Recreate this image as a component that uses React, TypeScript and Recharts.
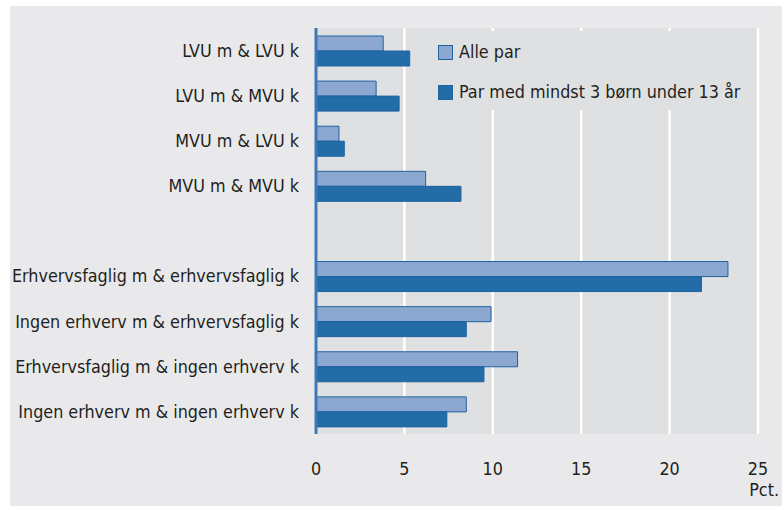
import React from "react";
import { BarChart, Bar, XAxis, YAxis, CartesianGrid } from "recharts";

const categories = [
  "LVU m & LVU k",
  "LVU m & MVU k",
  "MVU m & LVU k",
  "MVU m & MVU k",
  "",
  "Erhvervsfaglig m & erhvervsfaglig k",
  "Ingen erhverv m & erhvervsfaglig k",
  "Erhvervsfaglig m & ingen erhverv k",
  "Ingen erhverv m & ingen erhverv k",
];
const allePar = [3.8, 3.4, 1.3, 6.2, null, 23.3, 9.9, 11.4, 8.5];
const parMedBoern = [5.3, 4.7, 1.6, 8.2, null, 21.8, 8.5, 9.5, 7.4];
const xTicks = [0, 5, 10, 15, 20, 25];
const seriesNames = ["Alle par", "Par med mindst 3 børn under 13 år"];

const data = categories.map((c, i) => ({
  name: c,
  alle: allePar[i],
  boern: parMedBoern[i],
}));

const FONT = "'DejaVu Sans Condensed', 'DejaVu Sans', sans-serif";
const FS = 17.8;
const TEXT = "#231f20";
const LIGHT = "#8da8d0";
const DARK = "#226ca8";
const STROKE = "#1e62a0";

const LegendBox = () => (
  <div
    style={{
      position: "absolute",
      left: 418,
      top: 25,
      width: 322,
      height: 79,
      background: "#dfe0e2",
      fontFamily: FONT,
      fontSize: FS,
      color: TEXT,
    }}
  >
    {[LIGHT, DARK].map((col, i) => (
      <div
        key={i}
        style={{
          position: "absolute",
          left: 10,
          top: 21 + i * 40 - 12,
          height: 24,
          display: "flex",
          alignItems: "center",
          whiteSpace: "nowrap",
        }}
      >
        <span
          style={{
            display: "inline-block",
            width: 13,
            height: 13,
            background: col,
            border: `1px solid ${STROKE}`,
            marginRight: 6,
          }}
        />
        <span style={{ lineHeight: "24px" }}>{seriesNames[i]}</span>
      </div>
    ))}
  </div>
);

const PctLabel = (props: any) => {
  const vb = props.viewBox || {};
  return (
    <text
      x={(vb.x || 0) + (vb.width || 0) + 21}
      y={(vb.y || 0) + 62}
      textAnchor="end"
      fill={TEXT}
      style={{ fontFamily: FONT, fontSize: FS }}
    >
      Pct.
    </text>
  );
};

export default function App() {
  return (
    <div style={{ position: "absolute", left: 0, top: 0, width: 782, height: 506, background: "#ffffff", overflow: "hidden" }}>
      <div style={{ position: "absolute", left: 10, top: 6, width: 772, height: 500, background: "#e9e9eb" }}>
        <BarChart
          width={772}
          height={500}
          data={data}
          layout="vertical"
          margin={{ top: 22, right: 24, left: 0, bottom: 0 }}
          barSize={15}
          barGap={0}
        >
          <CartesianGrid horizontal={false} vertical={true} stroke="#ffffff" strokeWidth={2.5} fill="#dfe0e2" />
          <XAxis
            type="number"
            domain={[0, 25]}
            ticks={xTicks}
            axisLine={false}
            tickLine={false}
            height={72}
            tickMargin={22}
            interval={0}
            tick={{ fill: TEXT, fontSize: FS, fontFamily: FONT }}
            label={PctLabel}
          />
          <YAxis
            type="category"
            dataKey="name"
            width={306}
            axisLine={{ stroke: "#3b78b5", strokeWidth: 3 }}
            tickLine={false}
            tickMargin={11}
            interval={0}
            tick={{ fill: TEXT, fontSize: FS, fontFamily: FONT }}
          />
          <Bar dataKey="alle" name={seriesNames[0]} fill={LIGHT} stroke={STROKE} strokeWidth={1} isAnimationActive={false} />
          <Bar dataKey="boern" name={seriesNames[1]} fill={DARK} stroke={STROKE} strokeWidth={1} isAnimationActive={false} />
        </BarChart>
        <LegendBox />
      </div>
    </div>
  );
}
